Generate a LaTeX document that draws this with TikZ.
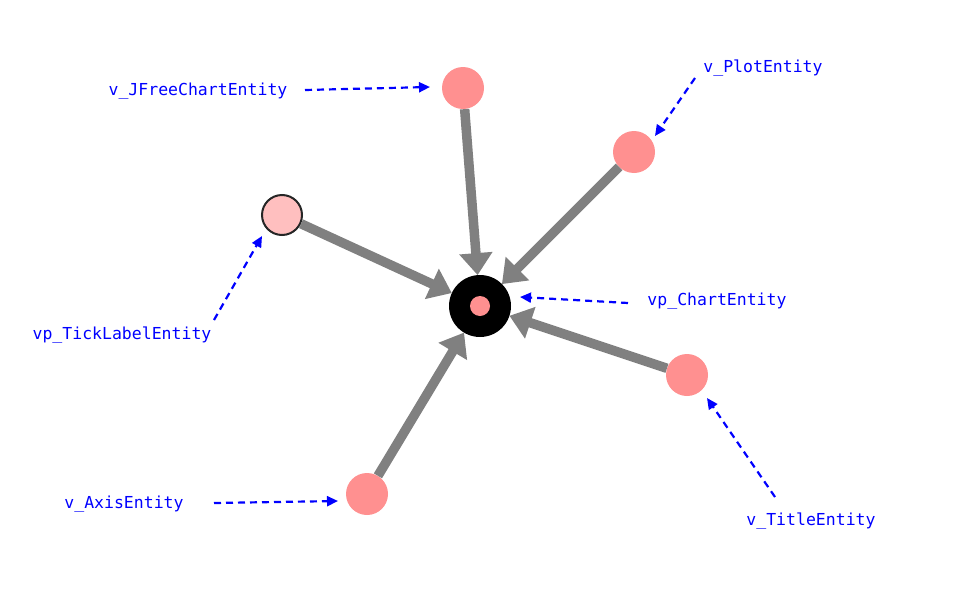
\documentclass[tikz,border=0pt]{standalone}
\usepackage{fontspec}
\setmonofont{DejaVu Sans Mono}
\usetikzlibrary{arrows.meta}
\definecolor{nodepink}{HTML}{FF9090}
\definecolor{lightpink}{HTML}{FFBFBF}
\definecolor{edgegray}{HTML}{808080}
\begin{document}
\begin{tikzpicture}[x=1pt,y=-1pt,
  vert/.style={circle,fill=nodepink,minimum size=42pt,inner sep=0pt},
  edge/.style={draw=edgegray,line width=9.5pt,-{Triangle[length=22pt,width=32pt]}},
  lbl/.style={font=\ttfamily\fontsize{16.5}{18}\selectfont,text=blue,inner sep=0pt},
  ptr/.style={draw=blue,line width=2.2pt,dash pattern=on 7pt off 5pt,-{Triangle[length=11pt,width=10pt]}}]
\useasboundingbox (0,0) rectangle (960,597);
\node[circle,fill=black,minimum size=62pt,inner sep=0pt,outer sep=0pt] (C) at (480,306) {};
\node[circle,fill=nodepink,minimum size=20pt,inner sep=0pt] (Ci) at (480,306) {};
\node[vert] (J) at (463,88) {};
\node[vert] (P) at (634,152) {};
\node[circle,fill=lightpink,draw=black!85,line width=2pt,minimum size=40pt,inner sep=0pt] (T) at (282,215) {};
\node[vert] (Ti) at (687,375) {};
\node[vert] (A) at (367,494) {};
\draw[edge] (J) -- (C);
\draw[edge] (P) -- (C);
\draw[edge] (T) -- (C);
\draw[edge] (Ti) -- (C);
\draw[edge] (A) -- (C);
\node[lbl] (lJ) at (198,91) {v\_JFreeChartEntity};
\node[lbl] (lP) at (763,68) {v\_PlotEntity};
\node[lbl] (lT) at (122,335) {vp\_TickLabelEntity};
\node[lbl] (lC) at (717,301) {vp\_ChartEntity};
\node[lbl] (lTi) at (811,521) {v\_TitleEntity};
\node[lbl] (lA) at (124,504) {v\_AxisEntity};
\coordinate (sJ) at (305,90); \coordinate (eJ) at (430,87);
\coordinate (sP) at (695,78); \coordinate (eP) at (655,136);
\coordinate (sT) at (214,320); \coordinate (eT) at (262,236);
\coordinate (sC) at (628,303); \coordinate (eC) at (520,297);
\coordinate (sTi) at (775,497); \coordinate (eTi) at (707,398);
\coordinate (sA) at (214,503); \coordinate (eA) at (338,501);
\draw[ptr] (sJ) -- (eJ);
\draw[ptr] (sP) -- (eP);
\draw[ptr] (sT) -- (eT);
\draw[ptr] (sC) -- (eC);
\draw[ptr] (sTi) -- (eTi);
\draw[ptr] (sA) -- (eA);
\end{tikzpicture}
\end{document}
